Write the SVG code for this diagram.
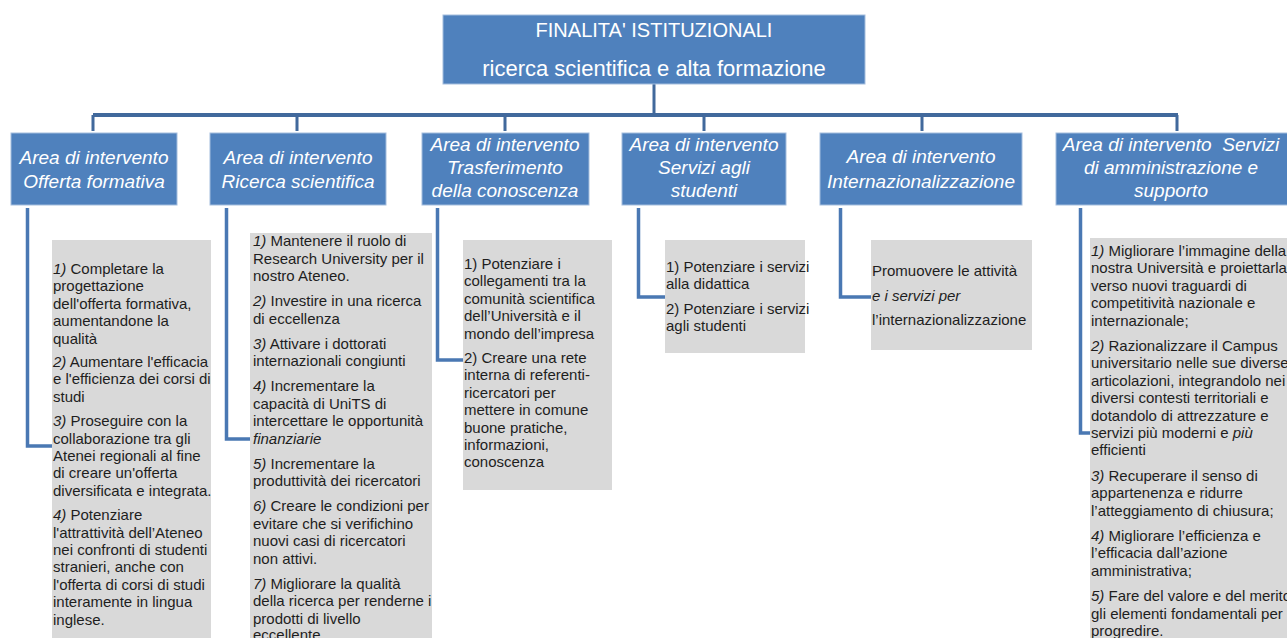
<svg xmlns="http://www.w3.org/2000/svg" width="1287" height="638" viewBox="0 0 1287 638">
  <style>
    .hdr{fill:#4f81bd;stroke:#a4bddd;stroke-width:1}
    .top{fill:#4f81bd;stroke:#a4bddd;stroke-width:1}
    .tt{font-family:"Liberation Sans",Arial,sans-serif;fill:#ffffff;text-anchor:middle}
    .ht{font-family:"Liberation Sans",Arial,sans-serif;font-size:19px;font-style:italic;fill:#ffffff;text-anchor:middle}
    .box{fill:#d9d9d9}
    .bt{font-family:"Liberation Sans",Arial,sans-serif;font-size:15px;fill:#1e1e1e}
    .i{font-style:italic}
    .trunk{stroke:#41699c;stroke-width:4;fill:none}
    .drop{stroke:#41699c;stroke-width:3;fill:none}
    .elbow{stroke:#4a78b3;stroke-width:3.5;fill:none}
  </style>

  <!-- connectors -->
  <g id="connectors">
    <path class="drop" d="M654 84V115"/>
    <path class="trunk" d="M93 115H1178"/>
    <path class="drop" d="M93 115V131M297 115V131M505 115V131M704 115V131M922 115V131M1177 115V131"/>
    <path class="elbow" d="M27.5 208V446H52"/>
    <path class="elbow" d="M226.5 208V439H250"/>
    <path class="elbow" d="M437.5 208V360H463"/>
    <path class="elbow" d="M638.5 208V297H665"/>
    <path class="elbow" d="M840.5 208V297H871"/>
    <path class="elbow" d="M1080.5 208V433H1090"/>
  </g>

  <!-- root -->
  <g id="finalita">
    <rect class="top" x="443" y="15" width="422" height="69"/>
    <text class="tt" x="654" y="37" font-size="20">FINALITA' ISTITUZIONALI</text>
    <text class="tt" x="654" y="76" font-size="22">ricerca scientifica e alta formazione</text>
  </g>

  <!-- areas -->
  <g id="area-offerta">
    <rect class="hdr" x="11" y="133" width="166" height="72"/>
    <text class="ht" x="94" y="164">Area di intervento</text>
    <text class="ht" x="94" y="188">Offerta formativa</text>
  </g>
  <g id="area-ricerca">
    <rect class="hdr" x="210" y="133" width="176" height="72"/>
    <text class="ht" x="298" y="164">Area di intervento</text>
    <text class="ht" x="298" y="188">Ricerca scientifica</text>
  </g>
  <g id="area-trasferimento">
    <rect class="hdr" x="422" y="133" width="167" height="72"/>
    <text class="ht" x="505" y="151">Area di intervento</text>
    <text class="ht" x="505" y="174">Trasferimento</text>
    <text class="ht" x="505" y="197">della conoscenza</text>
  </g>
  <g id="area-studenti">
    <rect class="hdr" x="622" y="133" width="164" height="72"/>
    <text class="ht" x="704" y="151">Area di intervento</text>
    <text class="ht" x="704" y="174">Servizi agli</text>
    <text class="ht" x="704" y="197">studenti</text>
  </g>
  <g id="area-internazionalizzazione">
    <rect class="hdr" x="820" y="133" width="202" height="72"/>
    <text class="ht" x="921" y="163">Area di intervento</text>
    <text class="ht" x="921" y="188">Internazionalizzazione</text>
  </g>
  <g id="area-amministrazione">
    <rect class="hdr" x="1056" y="133" width="240" height="72"/>
    <text class="ht" x="1171" y="151">Area di intervento&#160; Servizi</text>
    <text class="ht" x="1171" y="174">di amministrazione e</text>
    <text class="ht" x="1171" y="197">supporto</text>
  </g>

  <!-- objectives -->
  <g id="obiettivi-offerta">
    <rect class="box" x="52" y="240" width="159" height="398"/>
    <text class="bt">
      <tspan x="53" y="274"><tspan class="i">1)</tspan> Completare la</tspan>
      <tspan x="53" y="291.4">progettazione</tspan>
      <tspan x="53" y="308.8">dell'offerta formativa,</tspan>
      <tspan x="53" y="326.2">aumentandone la</tspan>
      <tspan x="53" y="343.6">qualità</tspan>
      <tspan x="53" y="367"><tspan class="i">2)</tspan> Aumentare l'efficacia</tspan>
      <tspan x="53" y="384.4">e l'efficienza dei corsi di</tspan>
      <tspan x="53" y="401.8">studi</tspan>
      <tspan x="53" y="426.2"><tspan class="i">3)</tspan> Proseguire con la</tspan>
      <tspan x="53" y="443.6">collaborazione tra gli</tspan>
      <tspan x="53" y="461">Atenei regionali al fine</tspan>
      <tspan x="53" y="478.4">di creare un'offerta</tspan>
      <tspan x="53" y="495.8">diversificata e integrata.</tspan>
      <tspan x="53" y="520.2"><tspan class="i">4)</tspan> Potenziare</tspan>
      <tspan x="53" y="537.6">l'attrattività dell’Ateneo</tspan>
      <tspan x="53" y="555">nei confronti di studenti</tspan>
      <tspan x="53" y="572.4">stranieri, anche con</tspan>
      <tspan x="53" y="589.8">l'offerta di corsi di studi</tspan>
      <tspan x="53" y="607.2">interamente in lingua</tspan>
      <tspan x="53" y="624.6">inglese.</tspan>
    </text>
  </g>

  <g id="obiettivi-ricerca">
    <rect class="box" x="250" y="233" width="182" height="405"/>
    <text class="bt">
      <tspan x="253" y="246"><tspan class="i">1)</tspan> Mantenere il ruolo di</tspan>
      <tspan x="253" y="263.5">Research University per il</tspan>
      <tspan x="253" y="281">nostro Ateneo.</tspan>
      <tspan x="253" y="306"><tspan class="i">2)</tspan> Investire in una ricerca</tspan>
      <tspan x="253" y="323.5">di eccellenza</tspan>
      <tspan x="253" y="348.5"><tspan class="i">3)</tspan> Attivare i dottorati</tspan>
      <tspan x="253" y="366">internazionali congiunti</tspan>
      <tspan x="253" y="391"><tspan class="i">4)</tspan> Incrementare la</tspan>
      <tspan x="253" y="408.5">capacità di UniTS di</tspan>
      <tspan x="253" y="426">intercettare le opportunità</tspan>
      <tspan x="253" y="443.5" class="i">finanziarie</tspan>
      <tspan x="253" y="468.5"><tspan class="i">5)</tspan> Incrementare la</tspan>
      <tspan x="253" y="486">produttività dei ricercatori</tspan>
      <tspan x="253" y="511"><tspan class="i">6)</tspan> Creare le condizioni per</tspan>
      <tspan x="253" y="528.5">evitare che si verifichino</tspan>
      <tspan x="253" y="546">nuovi casi di ricercatori</tspan>
      <tspan x="253" y="563.5">non attivi.</tspan>
      <tspan x="253" y="588.5"><tspan class="i">7)</tspan> Migliorare la qualità</tspan>
      <tspan x="253" y="606">della ricerca per renderne i</tspan>
      <tspan x="253" y="623.5">prodotti di livello</tspan>
      <tspan x="253" y="640">eccellente</tspan>
    </text>
  </g>

  <g id="obiettivi-trasferimento">
    <rect class="box" x="463" y="240" width="149" height="250"/>
    <text class="bt">
      <tspan x="464" y="269">1) Potenziare i</tspan>
      <tspan x="464" y="286.4">collegamenti tra la</tspan>
      <tspan x="464" y="303.8">comunità scientifica</tspan>
      <tspan x="464" y="321.2">dell’Università e il</tspan>
      <tspan x="464" y="338.6">mondo dell’impresa</tspan>
      <tspan x="464" y="363">2) Creare una rete</tspan>
      <tspan x="464" y="380.4">interna di referenti-</tspan>
      <tspan x="464" y="397.8">ricercatori per</tspan>
      <tspan x="464" y="415.2">mettere in comune</tspan>
      <tspan x="464" y="432.6">buone pratiche,</tspan>
      <tspan x="464" y="450">informazioni,</tspan>
      <tspan x="464" y="467.4">conoscenza</tspan>
    </text>
  </g>

  <g id="obiettivi-studenti">
    <rect class="box" x="665" y="240" width="140" height="113"/>
    <text class="bt">
      <tspan x="666" y="272">1) Potenziare i servizi</tspan>
      <tspan x="666" y="289.4">alla didattica</tspan>
      <tspan x="666" y="313.8">2) Potenziare i servizi</tspan>
      <tspan x="666" y="331.2">agli studenti</tspan>
    </text>
  </g>

  <g id="obiettivi-internazionalizzazione">
    <rect class="box" x="871" y="240" width="161" height="110"/>
    <text class="bt">
      <tspan x="872" y="276">Promuovere le attività</tspan>
      <tspan x="872" y="301" class="i">e i servizi per</tspan>
      <tspan x="872" y="325">l’internazionalizzazione</tspan>
    </text>
  </g>

  <g id="obiettivi-amministrazione">
    <rect class="box" x="1090" y="238" width="197" height="400"/>
    <text class="bt">
      <tspan x="1091" y="256"><tspan class="i">1)</tspan> Migliorare l’immagine della</tspan>
      <tspan x="1091" y="273.4">nostra Università e proiettarla</tspan>
      <tspan x="1091" y="290.8">verso nuovi traguardi di</tspan>
      <tspan x="1091" y="308.2">competitività nazionale e</tspan>
      <tspan x="1091" y="325.6">internazionale;</tspan>
      <tspan x="1091" y="351"><tspan class="i">2)</tspan> Razionalizzare il Campus</tspan>
      <tspan x="1091" y="368.4">universitario nelle  sue diverse</tspan>
      <tspan x="1091" y="385.8">articolazioni, integrandolo nei</tspan>
      <tspan x="1091" y="403.2">diversi contesti  territoriali e</tspan>
      <tspan x="1091" y="420.6">dotandolo di attrezzature e</tspan>
      <tspan x="1091" y="438">servizi più moderni e <tspan class="i">più</tspan></tspan>
      <tspan x="1091" y="455.4">efficienti</tspan>
      <tspan x="1091" y="480.8"><tspan class="i">3)</tspan> Recuperare il senso di</tspan>
      <tspan x="1091" y="498.2">appartenenza e ridurre</tspan>
      <tspan x="1091" y="515.6">l’atteggiamento di chiusura;</tspan>
      <tspan x="1091" y="541"><tspan class="i">4)</tspan> Migliorare l’efficienza e</tspan>
      <tspan x="1091" y="558.4">l’efficacia dall’azione</tspan>
      <tspan x="1091" y="575.8">amministrativa;</tspan>
      <tspan x="1091" y="601.2"><tspan class="i">5)</tspan> Fare del valore e del merito</tspan>
      <tspan x="1091" y="618.6">gli elementi  fondamentali per</tspan>
      <tspan x="1091" y="636">progredire.</tspan>
    </text>
  </g>
</svg>
